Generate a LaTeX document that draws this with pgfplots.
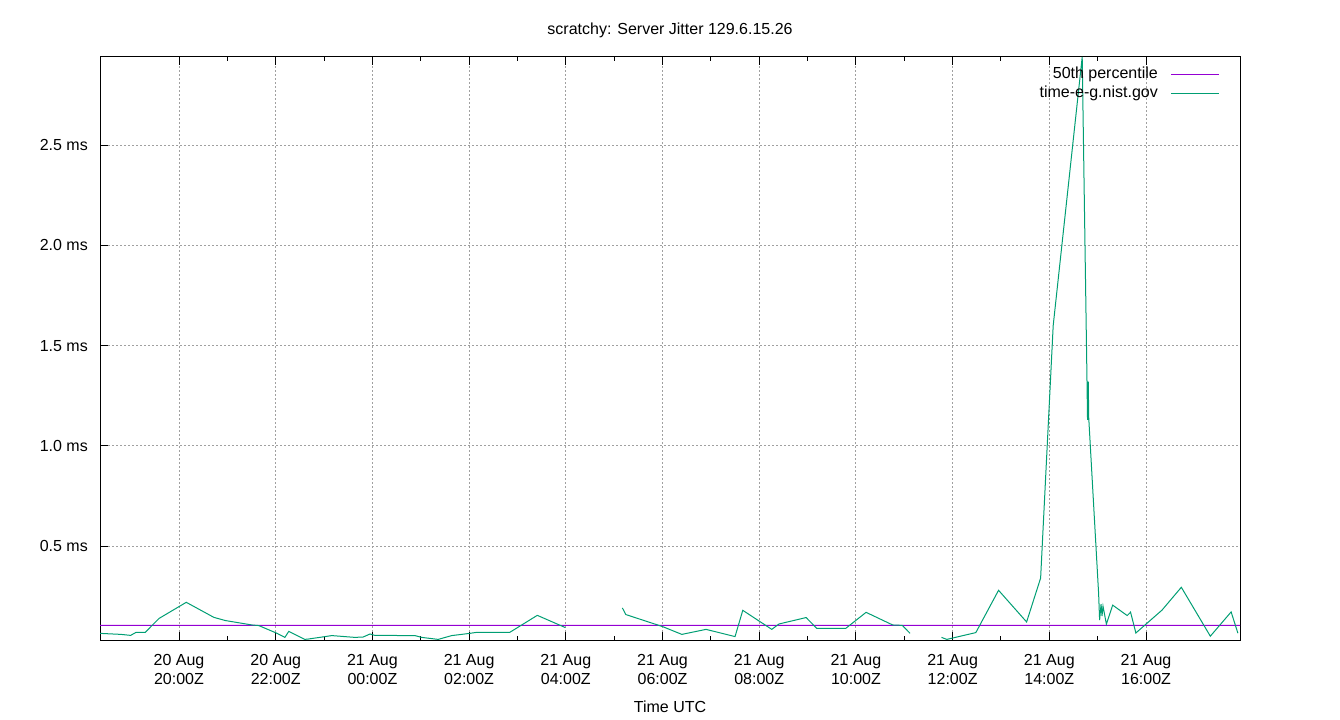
\documentclass[border=0pt]{standalone}
\usepackage{fontspec}
\setmainfont{Liberation Sans}
\usepackage{pgfplots}
\pgfplotsset{compat=1.18}
\definecolor{medianviolet}{RGB}{148,0,211}
\definecolor{servergreen}{RGB}{0,158,115}
\definecolor{gridgray}{RGB}{160,160,160}

\begin{document}
\begin{tikzpicture}
\fontsize{16bp}{19bp}\selectfont
\path[use as bounding box] (0bp,0bp) rectangle (1340bp,720bp);
\begin{axis}[
    at={(100bp,80bp)}, anchor=south west,
    scale only axis,
    width=1140bp, height=583bp,
    xmin=18.366, xmax=41.944,
    ymin=0.031, ymax=2.94,
    clip=false,
    axis line style={line width=1bp},
    tick style={black, line width=1bp},
    tick align=inside,
    major tick length=8bp, minor tick length=4bp,
    xtick pos=both, ytick pos=left,
    xtick={20,22,...,40},
    minor x tick num=1,
    xticklabels={{20 Aug\\20:00Z},{20 Aug\\22:00Z},{21 Aug\\00:00Z},{21 Aug\\02:00Z},{21 Aug\\04:00Z},{21 Aug\\06:00Z},{21 Aug\\08:00Z},{21 Aug\\10:00Z},{21 Aug\\12:00Z},{21 Aug\\14:00Z},{21 Aug\\16:00Z}},
    xticklabel style={align=center, inner sep=0pt, yshift=-14bp, font=\fontsize{16bp}{19bp}\selectfont},
    ytick={0.5,1.0,1.5,2.0,2.5},
    yticklabels={0.5 ms,1.0 ms,1.5 ms,2.0 ms,2.5 ms},
    yticklabel style={inner sep=0pt, xshift=-12bp},
    grid=major,
    major grid style={gridgray, line width=1bp, dash pattern=on 2bp off 2bp},
    title={scratchy: Server Jitter 129.6.15.26},
    title style={at={(0.5,1)}, anchor=base, yshift=17bp, inner sep=0pt},
    xlabel={Time UTC},
    xlabel style={at={(0.5,0)}, anchor=base, yshift=-72bp, inner sep=0pt},
    unbounded coords=jump,
    legend plot pos=right,
    legend cell align=right,
    legend image code/.code={\draw[#1] (0bp,0bp) -- (48bp,0bp);},
    legend style={at={(1,1)}, anchor=north east, xshift=-20bp, yshift=-10bp,
        draw=none, fill=none, inner sep=0pt, row sep=5bp,
        nodes={inner sep=0pt, text height=11bp, text depth=3bp},
        /tikz/every odd column/.append style={column sep=13bp}},
]
\addplot[draw=medianviolet, line width=1bp] coordinates {
    (18.366,0.104) (41.944,0.1041)
};
\addlegendentry{50th percentile}
\addplot[draw=servergreen, line width=1bp] coordinates {
    (18.37,0.064) (18.80,0.059) (19.00,0.054) (19.11,0.069) (19.30,0.069)
    (19.59,0.139) (20.15,0.219) (20.72,0.144) (20.96,0.128) (21.31,0.114)
    (21.51,0.106) (21.65,0.103) (22.03,0.064) (22.19,0.044) (22.27,0.074)
    (22.60,0.034) (22.68,0.036) (23.02,0.048) (23.16,0.053) (23.64,0.044)
    (23.81,0.046) (23.95,0.061) (24.05,0.054) (24.88,0.053) (25.02,0.044)
    (25.36,0.034) (25.64,0.053) (26.01,0.064) (26.15,0.069) (26.84,0.069)
    (27.41,0.154) (27.99,0.093)
    (28.5,nan)
    (29.17,0.191) (29.24,0.158) (30.00,0.098) (30.40,0.059) (30.90,0.084)
    (31.50,0.048) (31.66,0.179) (32.26,0.084) (32.41,0.111) (32.97,0.143)
    (33.19,0.089) (33.79,0.089) (34.21,0.169) (34.76,0.106) (34.96,0.104)
    (35.12,0.064)
    (35.4,nan)
    (35.77,0.044) (35.88,0.034) (36.48,0.068) (36.95,0.279) (37.53,0.121)
    (37.82,0.340) (38.08,1.600) (38.68,2.940) (38.78,1.310) (38.79,1.130)
    (38.805,1.320) (38.815,1.140) (39.02,0.260) (39.04,0.130) (39.07,0.210)
    (39.09,0.150) (39.11,0.200) (39.18,0.110) (39.31,0.205) (39.61,0.153)
    (39.68,0.170) (39.79,0.066) (40.33,0.180) (40.73,0.294) (41.33,0.050)
    (41.76,0.171) (41.90,0.065)
};
\addlegendentry{time-e-g.nist.gov}
\end{axis}
\end{tikzpicture}
\end{document}
